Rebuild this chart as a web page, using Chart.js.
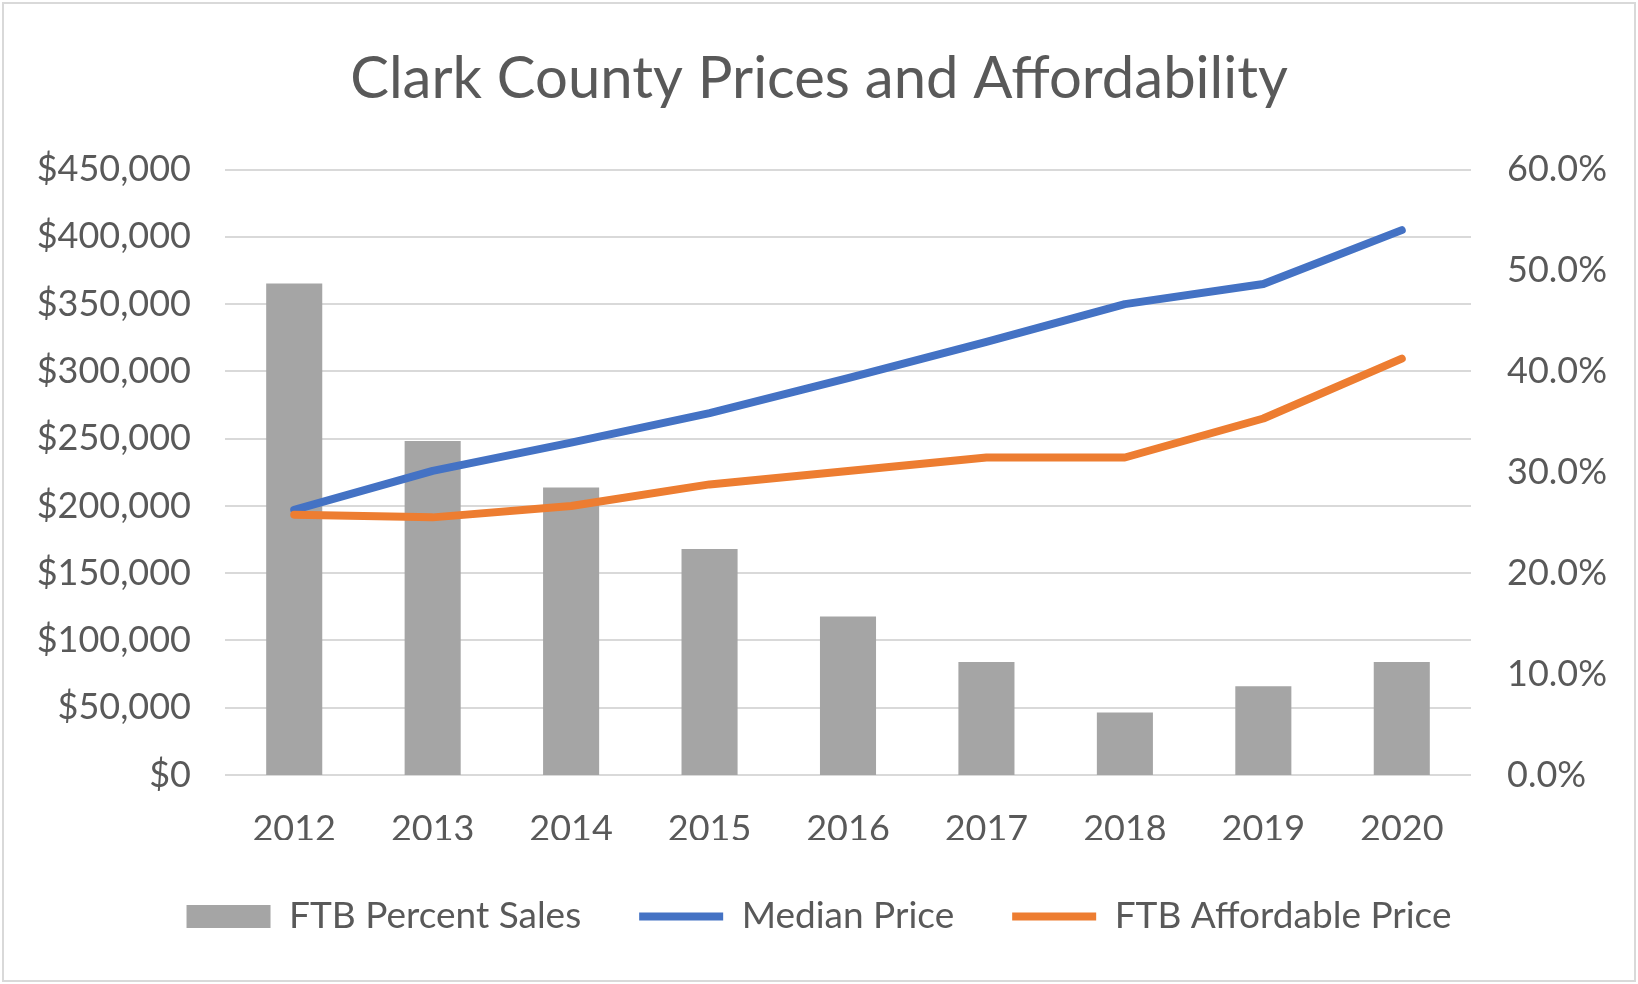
<!DOCTYPE html>
<html>
<head>
<meta charset="utf-8">
<script src="https://cdn.jsdelivr.net/npm/chart.js@4.4.1/dist/chart.umd.min.js"></script>
<style>
  html, body { margin: 0; padding: 0; background: #ffffff; }
  #wrap { position: relative; width: 1638px; height: 984px; }
</style>
</head>
<body>
<div id="wrap"><canvas id="c" width="1638" height="984"></canvas></div>
<script>
const years = ['2012', '2013', '2014', '2015', '2016', '2017', '2018', '2019', '2020'];
const ftbPercentSales = [48.7, 33.1, 28.5, 22.4, 15.7, 11.2, 6.2, 8.8, 11.2];
const medianPrice = [197000, 226000, 247000, 269000, 295000, 322000, 350000, 365000, 405000];
const ftbAffordablePrice = [193500, 191500, 200000, 216000, 226000, 236000, 236000, 265000, 309500];
const priceTicks = [0, 450000, 50000];   // min, max, step
const percentTicks = [0, 60, 10];        // min, max, step

const FONT = "Lato, 'Open Sans', 'Noto Sans', sans-serif";
const TEXT = '#595959';

const borderPlugin = {
  id: 'outerBorder',
  afterDraw(chart) {
    const ctx = chart.ctx;
    ctx.save();
    ctx.strokeStyle = '#D9D9D9';
    ctx.lineWidth = 2;
    ctx.strokeRect(3, 3, chart.width - 6, chart.height - 6);
    ctx.restore();
  }
};

new Chart(document.getElementById('c'), {
  data: {
    labels: years,
    datasets: [
      {
        type: 'bar',
        label: 'FTB Percent Sales',
        data: ftbPercentSales,
        yAxisID: 'yPct',
        backgroundColor: '#A5A5A5',
        borderWidth: 0,
        barPercentage: 0.405,
        categoryPercentage: 1.0,
        pointStyle: 'rect',
        order: 2
      },
      {
        type: 'line',
        label: 'Median Price',
        data: medianPrice,
        yAxisID: 'yPrice',
        borderColor: '#4472C4',
        backgroundColor: '#4472C4',
        borderWidth: 8,
        borderCapStyle: 'round',
        borderJoinStyle: 'round',
        pointRadius: 0,
        pointHoverRadius: 0,
        pointStyle: 'line',
        tension: 0,
        order: 1
      },
      {
        type: 'line',
        label: 'FTB Affordable Price',
        data: ftbAffordablePrice,
        yAxisID: 'yPrice',
        borderColor: '#ED7D31',
        backgroundColor: '#ED7D31',
        borderWidth: 8,
        borderCapStyle: 'round',
        borderJoinStyle: 'round',
        pointRadius: 0,
        pointHoverRadius: 0,
        pointStyle: 'line',
        tension: 0,
        order: 0
      }
    ]
  },
  options: {
    responsive: false,
    animation: false,
    devicePixelRatio: 1,
    layout: { padding: { left: 0, right: 0, top: 0, bottom: 39 } },
    plugins: {
      title: {
        display: true,
        text: 'Clark County Prices and Affordability',
        color: TEXT,
        font: { family: FONT, size: 58, weight: 'normal', lineHeight: 1.2 },
        padding: { top: 44, bottom: 56 }
      },
      legend: {
        display: true,
        position: 'bottom',
        labels: {
          color: TEXT,
          font: { family: FONT, size: 37 },
          usePointStyle: true,
          pointStyleWidth: 84,
          boxHeight: 23,
          padding: 58,
          sort: (a, b) => a.datasetIndex - b.datasetIndex
        }
      },
      tooltip: { enabled: false }
    },
    scales: {
      x: {
        grid: { display: false, drawTicks: false },
        border: { display: false },
        ticks: { color: TEXT, font: { family: FONT, size: 36 }, padding: 33, maxRotation: 0 },
        afterFit(scale) { scale.height = 65; }
      },
      yPrice: {
        type: 'linear',
        position: 'left',
        min: priceTicks[0],
        max: priceTicks[1],
        grid: { color: '#D9D9D9', lineWidth: 2, drawTicks: false },
        border: { display: false },
        ticks: {
          stepSize: priceTicks[2],
          color: TEXT,
          font: { family: FONT, size: 36 },
          padding: 34,
          callback: v => '$' + Number(v).toLocaleString('en-US')
        },
        afterFit(scale) { scale.width = 225; }
      },
      yPct: {
        type: 'linear',
        position: 'right',
        min: percentTicks[0],
        max: percentTicks[1],
        grid: { display: false, drawTicks: false },
        border: { display: false },
        ticks: {
          stepSize: percentTicks[2],
          color: TEXT,
          font: { family: FONT, size: 36 },
          padding: 36,
          callback: v => Number(v).toFixed(1) + '%'
        },
        afterFit(scale) { scale.width = 167; }
      }
    }
  },
  plugins: [borderPlugin]
});
</script>
</body>
</html>
